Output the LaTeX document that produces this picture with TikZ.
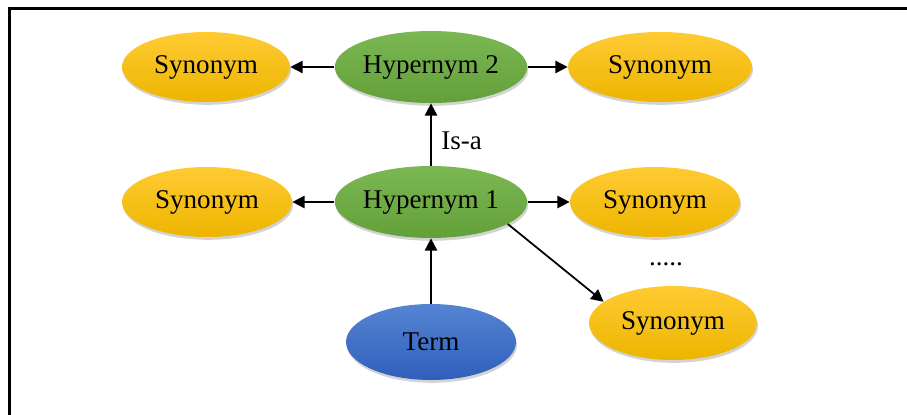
\documentclass[tikz,border=0pt]{standalone}
\usepackage{fontspec}
\setmainfont{Liberation Serif}
\definecolor{synTop}{HTML}{FFCB33}
\definecolor{synBot}{HTML}{EDB500}
\definecolor{hypTop}{HTML}{7BB853}
\definecolor{hypBot}{HTML}{63A03A}
\definecolor{termTop}{HTML}{5584D2}
\definecolor{termBot}{HTML}{2F5FBC}
\usetikzlibrary{shapes.geometric, arrows.meta, shadows}
\tikzset{
  oval/.style 2 args={
    ellipse, inner sep=0pt, top color=#1, bottom color=#2,
    draw=none, font=\rmfamily\fontsize{15.4}{18}\selectfont, text=black,
    drop shadow={shadow xshift=0.6pt, shadow yshift=-1.6pt, opacity=0.35}
  },
  syn/.style={oval={synTop}{synBot}},
  hyp/.style={oval={hypTop}{hypBot}},
  trm/.style={oval={termTop}{termBot}},
  arr/.style={-{Triangle[length=7pt,width=7pt]}, line width=1pt, black},
  lbl/.style={font=\rmfamily\fontsize{15.4}{18}\selectfont, text=black},
}
\begin{document}
\begin{tikzpicture}[x=0.02cm, y=-0.02cm]
  \useasboundingbox (0,0) rectangle (907,415);
  % Frame
  \draw[line width=1.7pt, line cap=rect] (9.5,415) -- (9.5,8.5) -- (907,8.5);

  % Top row
  \node[syn, minimum width=3.36cm, minimum height=1.4cm] (syntl) at (206,67) {Synonym};
  \node[hyp, minimum width=3.4cm, minimum height=1.44cm] (hyptwo) at (431,67) {Hypernym 2};
  \node[syn, minimum width=3.68cm, minimum height=1.4cm] (syntr) at (660,67) {Synonym};

  % Middle row
  \node[syn, minimum width=3.4cm, minimum height=1.4cm] (synml) at (207,202) {Synonym};
  \node[hyp, minimum width=3.36cm, minimum height=1.44cm] (hypone) at (431,202) {Hypernym 1};
  \node[syn, minimum width=3.4cm, minimum height=1.4cm] (synmr) at (655,202) {Synonym};
  \node[lbl] (dots) at (666,264) {.....};

  % Bottom
  \node[syn, minimum width=3.36cm, minimum height=1.48cm] (synbr) at (673,323) {Synonym};
  \node[trm, minimum width=3.4cm, minimum height=1.52cm] (term) at (431,342) {Term};

  % Arrows
  \draw[arr] (hyptwo) -- (syntl);
  \draw[arr] (hyptwo) -- (syntr);
  \draw[arr] (hypone) -- node[lbl, right, pos=0.4, xshift=2pt] {Is-a} (hyptwo);
  \draw[arr] (hypone) -- (synml);
  \draw[arr] (hypone) -- (synmr);
  \draw[arr] (hypone.-16) -- (synbr.163);
  \draw[arr] (term) -- (hypone);
\end{tikzpicture}
\end{document}
